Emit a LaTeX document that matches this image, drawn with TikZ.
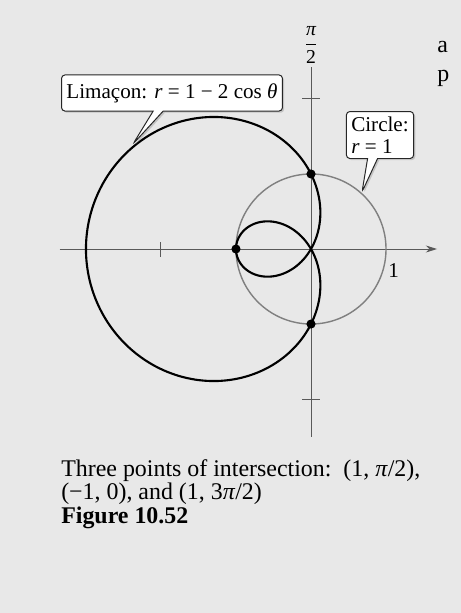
\documentclass[tikz,border=0pt]{standalone}
\usepackage{fontspec}
\setmainfont{Liberation Serif}
\usetikzlibrary{arrows.meta,shapes.callouts,shadows}
\tikzset{
  curve/.style={line width=1.5pt},
  unitcircle/.style={black!50, line width=1pt},
  axis/.style={black!65, line width=0.7pt},
  bubble/.style={rectangle callout, draw=black!85, line width=0.7pt, rounded corners=2.5pt,
    fill=white, inner sep=3.5pt, font=\fontsize{15}{16}\selectfont, align=left,
    drop shadow={shadow xshift=1.2pt, shadow yshift=-1.2pt, opacity=0.35}},
  meet/.style={circle, fill, inner sep=0pt, minimum size=6.5pt},
  caption/.style={anchor=west, inner sep=0pt, font=\fontsize{17}{20}\selectfont}
}
\begin{document}
\begin{tikzpicture}[x=0.025cm, y=-0.025cm]
                \fill[black!9] (0,0) rectangle (461,613);
                \useasboundingbox (0,0) rectangle (461,613);
                \begin{scope}[shift={(311,249)}, x=1.875cm, y=1.875cm]
                \coordinate (xl) at (-3.35,0);
                \coordinate (xr) at (1.68,0);
                \coordinate (yb) at (0,-2.5);
                \coordinate (yt) at (0,2.42);
                \draw[axis, -{Stealth[length=8pt, width=5pt]}] (xl) -- (xr);
                \draw[axis] (yb) -- (yt);
                \draw[axis] (-2,-0.1) -- (-2,0.1) (-0.12,2) -- (0.12,2) (-0.12,-2) -- (0.12,-2);
                \node (one) at (1.1,-0.29) {\fontsize{15}{16}\selectfont 1};
                \node[inner sep=0pt] (halfpi) at (0,2.72) {\fontsize{14}{15}\selectfont $\displaystyle\frac{\mbox{\itshape π}}{\mbox{2}}$};
                \draw[unitcircle] (0,0) circle (1);
                \draw[curve] plot[domain=0:360, samples=240, smooth, variable=\t]
                  ({(1-2*cos(\t))*cos(\t)}, {(1-2*cos(\t))*sin(\t)}) -- cycle;
                \node[meet] (top) at (0,1) {};
                \node[meet] (left) at (-1,0) {};
                \node[meet] (bottom) at (0,-1) {};
                \end{scope}
                % callouts
                \node[bubble, inner ysep=6pt, callout absolute pointer={(133,144)}] (limacon) at (172,93)
                  {Limaçon: \textit{r} = 1 − 2 cos \textit{θ}};
                \node[bubble, callout absolute pointer={(362,192)}] (circle) at (380,135)
                  {Circle:\\\textit{r} = 1};
                % caption
                \node[caption] (cap1) at (61,471) {Three points of intersection:\ \ (1, \textit{π}/2),};
                \node[caption] (cap2) at (61,494) {(−1, 0), and (1, 3\textit{π}/2)};
                \node[caption, font=\fontsize{17}{20}\selectfont\bfseries] (cap3) at (61,518) {Figure 10.52};
                \node[caption] (pa) at (437,47) {a};
                \node[caption] (pp) at (437,78) {p};
            \end{tikzpicture}
\end{document}
